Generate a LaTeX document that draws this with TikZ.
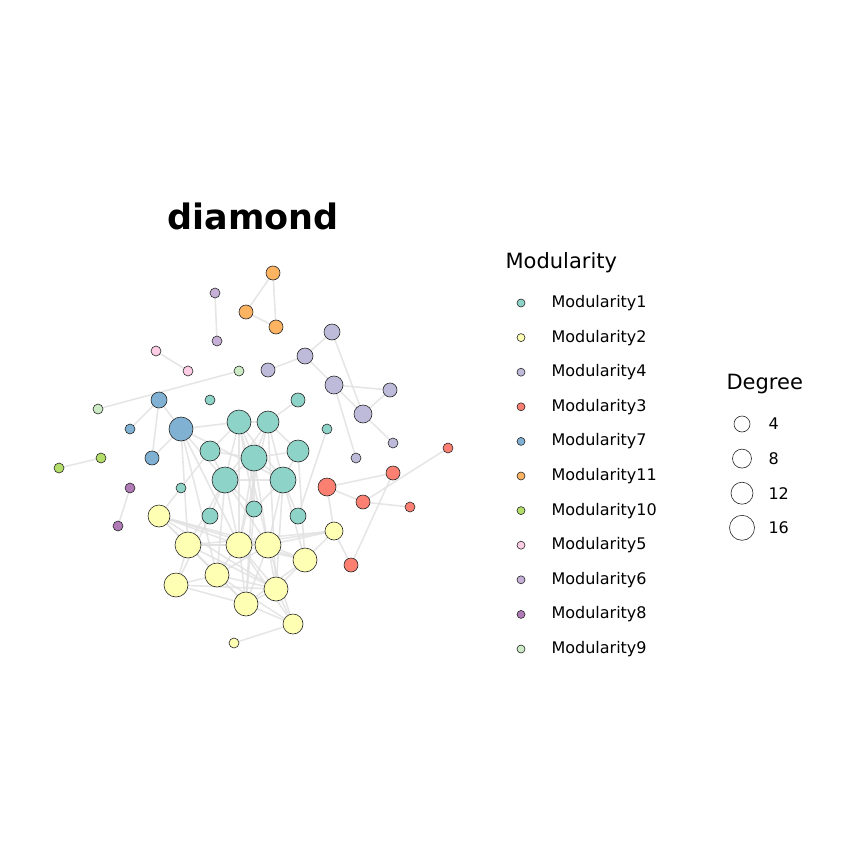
\documentclass[tikz,border=0pt]{standalone}
\usepackage{fontspec}
\setmainfont{DejaVu Sans}
\usetikzlibrary{calc}
\definecolor{mA}{HTML}{8DD3C7}
\definecolor{mB}{HTML}{FFFFB3}
\definecolor{mC}{HTML}{BEBADA}
\definecolor{mD}{HTML}{FB8072}
\definecolor{mE}{HTML}{80B1D3}
\definecolor{mF}{HTML}{FDB462}
\definecolor{mG}{HTML}{B3DE69}
\definecolor{mH}{HTML}{FCCDE5}
\definecolor{mI}{HTML}{C6B0D8}
\definecolor{mJ}{HTML}{B07AB6}
\definecolor{mK}{HTML}{CCEBC5}
\begin{document}
\begin{tikzpicture}[x=1pt,y=-1pt]
\tikzset{
    vtx/.style={draw=black!85,circle,inner sep=0pt,line width=0.6pt},
    lnk/.style={draw=black!12,line width=1.6pt,opacity=0.8},
    leg text/.style={anchor=west,font=\fontsize{16}{18}\selectfont}
}
\useasboundingbox (0,0) rectangle (864,864);
\node[font=\fontsize{35}{40}\selectfont\bfseries] (title) at (253,216) {diamond};
% nodes: name/x/y/diameter/colour
\foreach \n/\x/\y/\d/\c in {
  o1/273/273/14/mF, o2/246/312/14/mF, o3/276/327/14/mF,
  pa/215/293/10/mI, pb/217/341/10/mI,
  ka/156/351/10/mH, kb/188/371/10/mH,
  ga/239/371/10/mK, gb/98/409/10/mK,
  l1/332/332/16/mC, l2/305/356/16/mC, l3/268/370/14/mC, l4/334/385/18/mC,
  l5/390/390/14/mC, l6/363/414/18/mC, l7/393/443/10/mC, l8/356/458/10/mC,
  b1/159/400/16/mE, b2/130/429/10/mE, b3/181/429/24/mE, b4/152/458/14/mE,
  ea/59/468/10/mG, eb/101/458/10/mG,
  ja/130/488/10/mJ, jb/118/526/10/mJ,
  t1/210/400/10/mA, t2/239/422/24/mA, t3/268/422/22/mA, t4/298/400/14/mA,
  t5/327/429/10/mA, t6/210/451/20/mA, t7/254/458/26/mA, t8/298/451/22/mA,
  t9/225/480/26/mA, t10/283/480/26/mA, t11/181/488/10/mA, t12/254/509/16/mA,
  t13/210/516/16/mA, t14/298/516/16/mA,
  r1/448/448/10/mD, r2/393/473/14/mD, r3/327/487/18/mD, r4/363/502/14/mD,
  r5/410/507/10/mD, r6/351/565/14/mD,
  y1/159/516/22/mB, y2/334/531/18/mB, y3/188/545/26/mB, y4/239/545/26/mB,
  y5/268/545/26/mB, y6/305/560/24/mB, y7/217/575/24/mB, y8/176/585/24/mB,
  y9/276/589/24/mB, y10/246/604/24/mB, y11/293/624/20/mB, y12/234/643/10/mB}
  \coordinate (\n) at (\x,\y);
% links
\foreach \a/\b in {o1/o2,o1/o3,o2/o3,pa/pb,ka/kb,ga/gb,l1/l2,l2/l3,l1/l6,l2/l4,
  l4/l5,l4/l6,l5/l6,l6/l7,l4/l8,b1/b2,b1/b3,b1/b4,b3/b4,b3/t2,ea/eb,ja/jb,
  t4/t3,t5/t14,r3/r2,r3/r4,r4/r5,r4/r1,r2/r6,r3/y2,y2/r6,y11/y12,
  t2/t3,t2/t6,t2/t7,t2/t9,t2/t10,t2/t12,t3/t7,t3/t8,t3/t10,t3/t9,t6/t7,t6/t9,
  t7/t8,t7/t9,t7/t10,t8/t10,t9/t10,t9/t12,t10/t12,t9/t13,t10/t14,t7/t12,
  b3/t9,b3/y3,b3/y4,b3/y7,b3/t10,t6/y1,t9/y3,t9/y4,t9/y5,t9/y7,t10/y5,t10/y6,
  t10/y9,t7/y4,t7/y5,t7/y10,t2/y4,t2/y5,t3/y9,t8/y6,t3/y4,t12/y10,t13/y8,
  y1/y3,y1/y4,y1/y5,y1/y7,y1/y9,y3/y4,y3/y5,y3/y7,y3/y8,y3/y10,y3/y9,
  y4/y5,y4/y7,y4/y9,y4/y10,y4/y6,y4/y11,y5/y6,y5/y7,y5/y9,y5/y10,y5/y11,
  y5/y2,y6/y9,y6/y2,y7/y8,y7/y10,y7/y9,y8/y10,y8/y9,y9/y10,y9/y11,y10/y11,
  y2/y4,y2/y3,y6/y10,y7/y11,y1/y6}
  \draw[lnk] (\a) -- (\b);
\foreach \n/\x/\y/\d/\c in {
  o1/273/273/14/mF, o2/246/312/14/mF, o3/276/327/14/mF,
  pa/215/293/10/mI, pb/217/341/10/mI,
  ka/156/351/10/mH, kb/188/371/10/mH,
  ga/239/371/10/mK, gb/98/409/10/mK,
  l1/332/332/16/mC, l2/305/356/16/mC, l3/268/370/14/mC, l4/334/385/18/mC,
  l5/390/390/14/mC, l6/363/414/18/mC, l7/393/443/10/mC, l8/356/458/10/mC,
  b1/159/400/16/mE, b2/130/429/10/mE, b3/181/429/24/mE, b4/152/458/14/mE,
  ea/59/468/10/mG, eb/101/458/10/mG,
  ja/130/488/10/mJ, jb/118/526/10/mJ,
  t1/210/400/10/mA, t2/239/422/24/mA, t3/268/422/22/mA, t4/298/400/14/mA,
  t5/327/429/10/mA, t6/210/451/20/mA, t7/254/458/26/mA, t8/298/451/22/mA,
  t9/225/480/26/mA, t10/283/480/26/mA, t11/181/488/10/mA, t12/254/509/16/mA,
  t13/210/516/16/mA, t14/298/516/16/mA,
  r1/448/448/10/mD, r2/393/473/14/mD, r3/327/487/18/mD, r4/363/502/14/mD,
  r5/410/507/10/mD, r6/351/565/14/mD,
  y1/159/516/22/mB, y2/334/531/18/mB, y3/188/545/26/mB, y4/239/545/26/mB,
  y5/268/545/26/mB, y6/305/560/24/mB, y7/217/575/24/mB, y8/176/585/24/mB,
  y9/276/589/24/mB, y10/246/604/24/mB, y11/293/624/20/mB, y12/234/643/10/mB}
  \node[vtx,fill=\c,minimum size=\d pt] (v\n) at (\n) {};
% legend
\node[anchor=west,font=\fontsize{21}{24}\selectfont] (modtitle) at (502,263) {Modularity};
\foreach \t/\c [count=\i from 0] in {Modularity1/mA,Modularity2/mB,Modularity4/mC,
  Modularity3/mD,Modularity7/mE,Modularity11/mF,Modularity10/mG,Modularity5/mH,
  Modularity6/mI,Modularity8/mJ,Modularity9/mK}
{
  \node[vtx,fill=\c,minimum size=8pt] (key\i) at (521,{303+34.6*\i}) {};
  \node[leg text] (lab\i) at (548,{303+34.6*\i}) {\t};
}
\node[anchor=west,font=\fontsize{21}{24}\selectfont] (degtitle) at (723,384) {Degree};
\foreach \t/\d [count=\i from 0] in {4/16,8/19,12/22,16/25}
{
  \node[vtx,fill=white,minimum size=\d pt] (deg\i) at (742,{424+34.6*\i}) {};
  \node[leg text] (dlab\i) at (765,{424+34.6*\i}) {\t};
}
\end{tikzpicture}
\end{document}
